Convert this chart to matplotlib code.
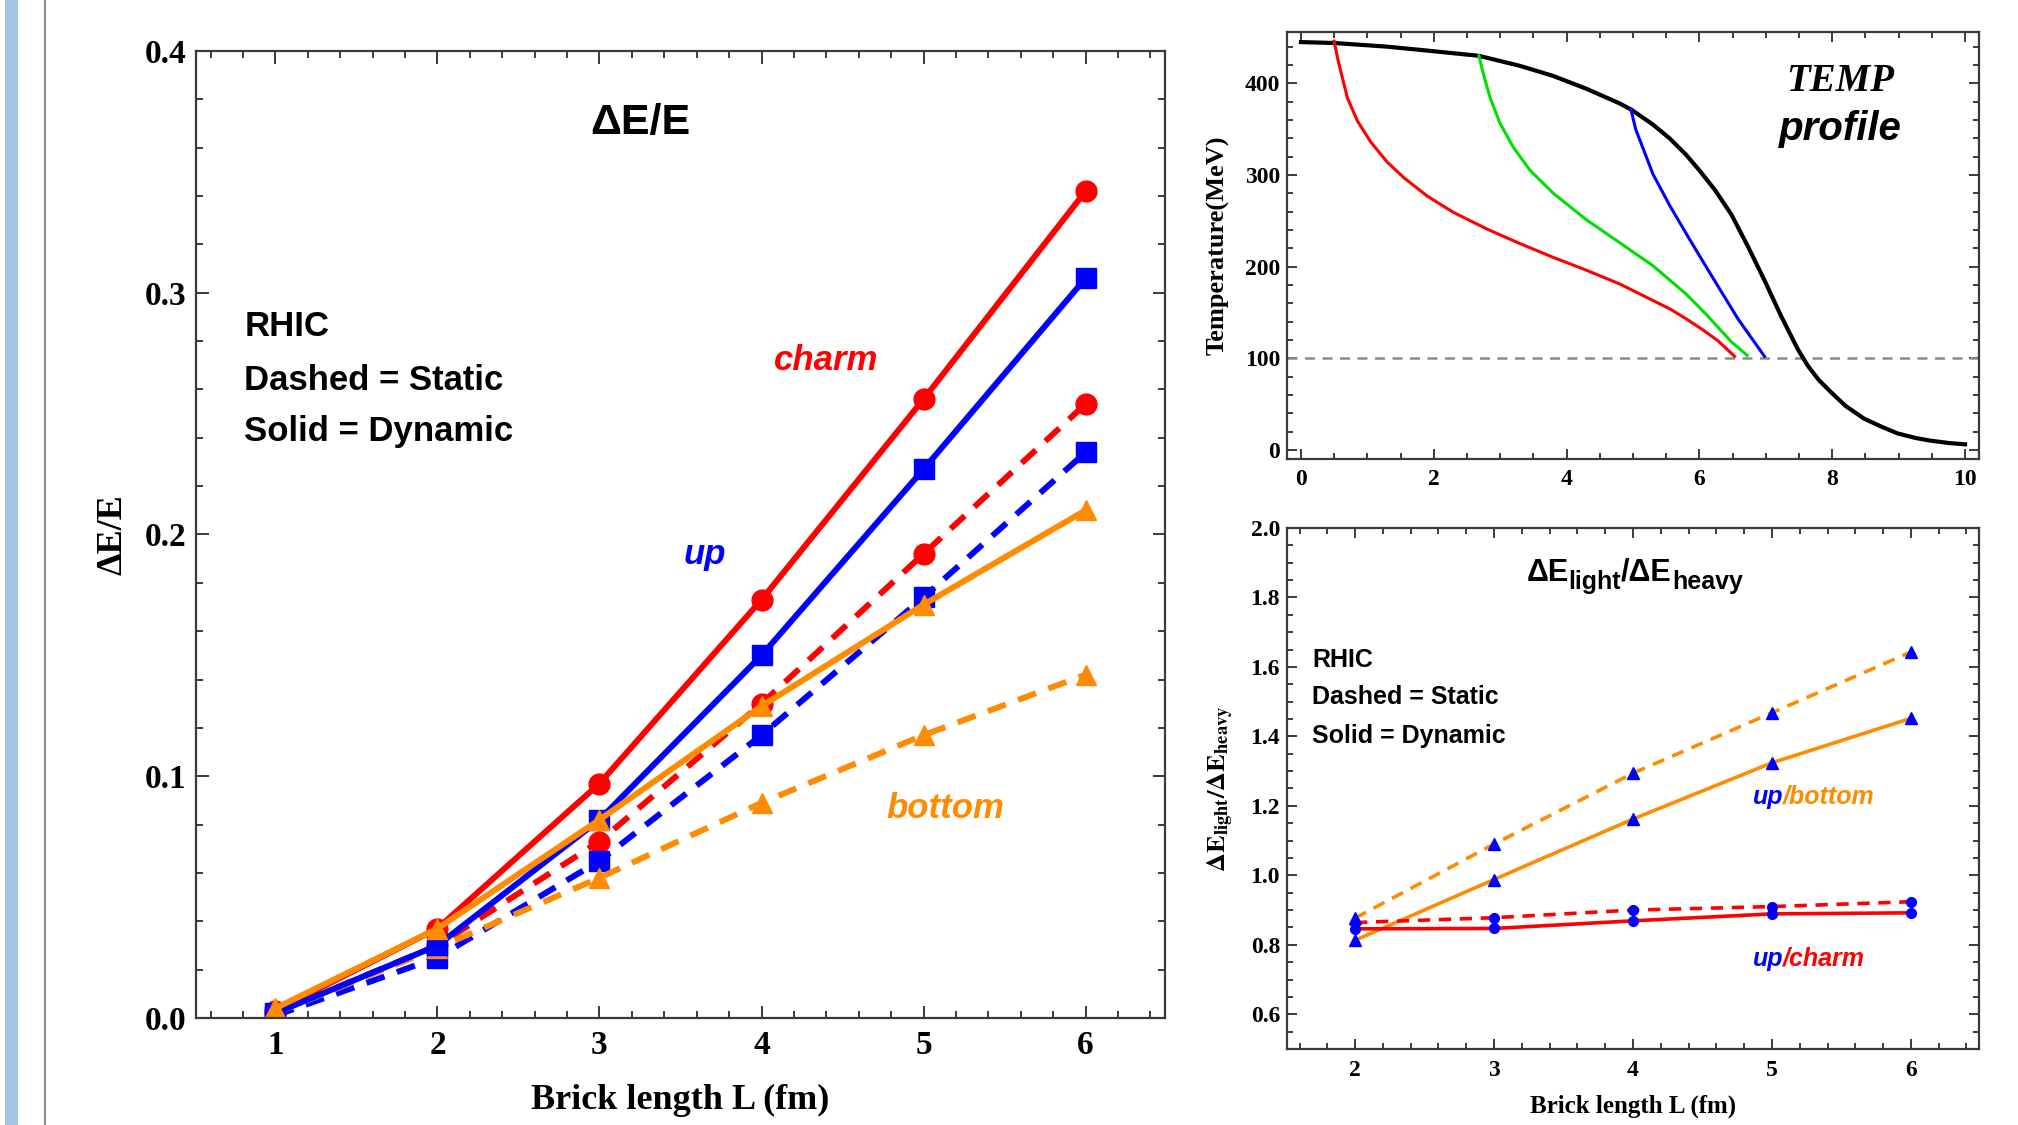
import matplotlib
matplotlib.use("Agg")
import matplotlib.pyplot as plt
from matplotlib.ticker import MultipleLocator, FormatStrFormatter
from matplotlib.patches import Rectangle
from matplotlib.lines import Line2D

SERIF = "Liberation Serif"
SANS = "Liberation Sans"
plt.rcParams["font.family"] = SERIF
plt.rcParams["font.weight"] = "bold"
plt.rcParams["axes.labelweight"] = "bold"

RED = "#FF0000"
BLUE = "#0000FF"
ORANGE = "#FF8C00"
GREEN = "#00E000"
FRAME = "#3a3a3a"

# --- left panel: dE/E vs brick length ---
L = [1, 2, 3, 4, 5, 6]
charm_dynamic = [0.003, 0.037, 0.097, 0.173, 0.256, 0.342]
up_dynamic = [0.002, 0.030, 0.082, 0.150, 0.227, 0.306]
bottom_dynamic = [0.004, 0.037, 0.082, 0.129, 0.171, 0.210]
charm_static = [0.002, 0.030, 0.073, 0.130, 0.192, 0.254]
up_static = [0.001, 0.025, 0.065, 0.117, 0.174, 0.234]
bottom_static = [0.002, 0.029, 0.058, 0.089, 0.117, 0.142]

# --- top right: temperature profiles ---
prof_x = [0, 0.5, 1.3, 2.0, 2.68, 3.3, 3.8, 4.3, 4.8, 4.98, 5.3, 5.55, 5.8,
          6.0, 6.23, 6.48, 6.73, 6.98, 7.23, 7.48, 7.63, 7.8, 7.98, 8.2, 8.48,
          8.75, 8.98, 9.25, 9.48, 9.75, 10.0]
prof_T = [445, 444, 440, 435, 430, 419, 408, 394, 378, 371, 355, 340, 322,
          305, 284, 257, 222, 185, 146, 110, 92, 76, 63, 48, 34,
          25, 18, 13, 10, 7.5, 6]
red_x = [0.5, 0.55, 0.6, 0.7, 0.85, 1.05, 1.3, 1.55, 1.9, 2.3, 2.8, 3.3, 3.8,
         4.3, 4.8, 5.05, 5.3, 5.55, 5.8, 6.05, 6.28, 6.53]
red_T = [446, 428, 413, 384, 359, 336, 314, 297, 277, 259, 241, 225, 210,
         196, 181, 172, 163, 154, 143, 131, 119, 102]
green_x = [2.68, 2.72, 2.77, 2.85, 3.0, 3.2, 3.45, 3.8, 4.3, 4.8, 5.3, 5.8,
           6.1, 6.48, 6.72]
green_T = [430, 418, 404, 384, 356, 330, 305, 280, 251, 226, 201, 170,
           148, 118, 103]
blue_x = [4.97, 5.0, 5.04, 5.13, 5.3, 5.55, 5.85, 6.2, 6.58, 6.98]
blue_T = [372, 362, 350, 333, 301, 267, 230, 188, 143, 102]
T_freeze = 100

# --- bottom right: light/heavy ratios ---
Lr = [2, 3, 4, 5, 6]
up_bottom_static = [0.877, 1.090, 1.294, 1.468, 1.643]
up_bottom_dynamic = [0.813, 0.988, 1.162, 1.324, 1.452]
up_charm_static = [0.864, 0.878, 0.900, 0.910, 0.924]
up_charm_dynamic = [0.846, 0.847, 0.869, 0.889, 0.892]


def style_frame(ax, xmaj, xmin, ymaj, ymin, size, majlen, minlen):
    for s in ax.spines.values():
        s.set_color(FRAME)
        s.set_linewidth(1.6)
    ax.xaxis.set_major_locator(MultipleLocator(xmaj))
    ax.xaxis.set_minor_locator(MultipleLocator(xmin))
    ax.yaxis.set_major_locator(MultipleLocator(ymaj))
    ax.yaxis.set_minor_locator(MultipleLocator(ymin))
    ax.tick_params(which="both", direction="in", top=True, right=True,
                   color=FRAME, width=1.4, labelsize=size)
    ax.tick_params(which="major", length=majlen)
    ax.tick_params(which="minor", length=minlen)


def chain_text(ax, x, y, pieces, **kw):
    # pieces: (text, size, vertical shift in points relative to main baseline)
    t = ax.text(x, y, pieces[0][0], transform=ax.transAxes, ha="left",
                va="bottom", fontsize=pieces[0][1], **kw)
    prev_shift = pieces[0][2]
    for txt, size, shift in pieces[1:]:
        t = ax.annotate(txt, xy=(1, 0), xycoords=t, xytext=(0, shift - prev_shift),
                        textcoords="offset points", ha="left", va="bottom",
                        fontsize=size, **kw)
        prev_shift = shift
    return t


fig = plt.figure(figsize=(20.18, 11.25), dpi=100)
fig.add_artist(Rectangle((5 / 2018, 0), 13 / 2018, 1, transform=fig.transFigure,
                         color="#A3C6E0", lw=0))
fig.add_artist(Line2D([45 / 2018, 45 / 2018], [0, 1], transform=fig.transFigure,
                      color="#8a8a8a", lw=1.5))

# ---------------- left panel ----------------
ax = fig.add_axes([196 / 2018, 1 - 1018 / 1125, 969 / 2018, 967 / 1125])
lw = 4.3
dash = (3.2, 2.2)
ax.plot(L, charm_static, color=RED, lw=lw, dashes=dash, marker="o", ms=15)
ax.plot(L, up_static, color=BLUE, lw=lw, dashes=dash, marker="s", ms=14)
ax.plot(L, bottom_static, color=ORANGE, lw=lw, dashes=dash, marker="^", ms=15)
ax.plot(L, charm_dynamic, color=RED, lw=lw, marker="o", ms=15)
ax.plot(L, up_dynamic, color=BLUE, lw=lw, marker="s", ms=14)
ax.plot(L, bottom_dynamic, color=ORANGE, lw=lw, marker="^", ms=15)
ax.set_xlim(0.51, 6.49)
ax.set_ylim(0, 0.4)
style_frame(ax, 1, 0.2, 0.1, 0.02, 24, 9, 5)
ax.yaxis.set_major_formatter(FormatStrFormatter("%.1f"))
ax.tick_params(axis="x", pad=9)
ax.tick_params(axis="y", pad=7)
ax.set_xlabel("Brick length L (fm)", fontsize=26)
ax.xaxis.set_label_coords(0.5, -0.068)
ax.set_ylabel("ΔE/E", fontsize=26)
ax.yaxis.set_label_coords(-0.069, 0.5)

ax.text(0.459, 0.926, "ΔE/E", transform=ax.transAxes, ha="center", va="center",
        fontfamily=SANS, fontsize=31)
for yy, txt in zip([0.705, 0.649, 0.597], ["RHIC", "Dashed = Static", "Solid = Dynamic"]):
    ax.text(0.050, yy, txt, transform=ax.transAxes, ha="left", va="baseline",
            fontfamily=SANS, fontsize=25)
ax.text(0.650, 0.680, "charm", transform=ax.transAxes, ha="center", va="center",
        color=RED, fontfamily=SANS, style="italic", fontsize=25)
ax.text(0.525, 0.479, "up", transform=ax.transAxes, ha="center", va="center",
        color=BLUE, fontfamily=SANS, style="italic", fontsize=25)
ax.text(0.773, 0.217, "bottom", transform=ax.transAxes, ha="center", va="center",
        color=ORANGE, fontfamily=SANS, style="italic", fontsize=25)

# ---------------- top right: temperature ----------------
ax2 = fig.add_axes([1287 / 2018, 1 - 459 / 1125, 692 / 2018, 427 / 1125])
ax2.axhline(T_freeze, color="#8c8c8c", lw=1.8, dashes=(4, 3))
ax2.plot(prof_x, prof_T, color="black", lw=3.0)
ax2.plot(red_x, red_T, color=RED, lw=2.2)
ax2.plot(green_x, green_T, color=GREEN, lw=2.2)
ax2.plot(blue_x, blue_T, color=BLUE, lw=2.2)
ax2.set_xlim(-0.21, 10.21)
ax2.set_ylim(-10, 456)
style_frame(ax2, 2, 0.5, 100, 20, 17, 7, 4)
ax2.tick_params(axis="x", pad=7)
ax2.tick_params(axis="y", pad=5)
ax2.set_ylabel("Temperature(MeV)", fontsize=19)
ax2.yaxis.set_label_coords(-0.083, 0.5)
ax2.text(0.799, 0.885, "TEMP", transform=ax2.transAxes, ha="center", va="center",
         style="italic", fontsize=28)
ax2.text(0.799, 0.773, "profile", transform=ax2.transAxes, ha="center", va="center",
         fontfamily=SANS, style="italic", fontsize=29)

# ---------------- bottom right: ratios ----------------
ax3 = fig.add_axes([1287 / 2018, 1 - 1049 / 1125, 692 / 2018, 521 / 1125])
lw3 = 2.6
dash3 = (3.4, 2.4)
ax3.plot(Lr, up_bottom_static, color=ORANGE, lw=lw3, dashes=dash3,
         marker="^", ms=8, mfc=BLUE, mec=BLUE)
ax3.plot(Lr, up_bottom_dynamic, color=ORANGE, lw=lw3,
         marker="^", ms=8, mfc=BLUE, mec=BLUE)
ax3.plot(Lr, up_charm_static, color=RED, lw=lw3, dashes=dash3,
         marker="o", ms=7, mfc=BLUE, mec=BLUE)
ax3.plot(Lr, up_charm_dynamic, color=RED, lw=lw3,
         marker="o", ms=7, mfc=BLUE, mec=BLUE)
ax3.set_xlim(1.51, 6.49)
ax3.set_ylim(0.5, 2.0)
style_frame(ax3, 1, 0.2, 0.2, 0.05, 17, 7, 4)
ax3.yaxis.set_major_formatter(FormatStrFormatter("%.1f"))
ax3.tick_params(axis="x", pad=8)
ax3.tick_params(axis="y", pad=5)
ax3.set_xlabel("Brick length L (fm)", fontsize=18)
ax3.xaxis.set_label_coords(0.5, -0.088)
ax3.set_ylabel(r"$\mathbf{\Delta E_{light}/\Delta E_{heavy}}$", fontsize=19,
               math_fontfamily="stix")
ax3.yaxis.set_label_coords(-0.074, 0.5)
chain_text(ax3, 0.346, 0.885,
           [("ΔE", 22, 0), ("light", 18, -4.5), ("/ΔE", 22, 0), ("heavy", 18, -4.5)],
           fontfamily=SANS)
for yy, txt in zip([0.733, 0.662, 0.587], ["RHIC", "Dashed = Static", "Solid = Dynamic"]):
    ax3.text(0.036, yy, txt, transform=ax3.transAxes, ha="left", va="baseline",
             fontfamily=SANS, fontsize=18)

lab_kw = dict(fontfamily=SANS, style="italic", fontsize=18)
for yy, heavy, col in [(0.484, "/bottom", ORANGE), (0.173, "/charm", RED)]:
    t_up = ax3.text(0.673, yy, "up", transform=ax3.transAxes, ha="left",
                    va="center", color=BLUE, **lab_kw)
    ax3.annotate(heavy, xy=(1, 0), xycoords=t_up, ha="left", va="bottom",
                 color=col, **lab_kw)

fig.savefig("out.png", dpi=100)
